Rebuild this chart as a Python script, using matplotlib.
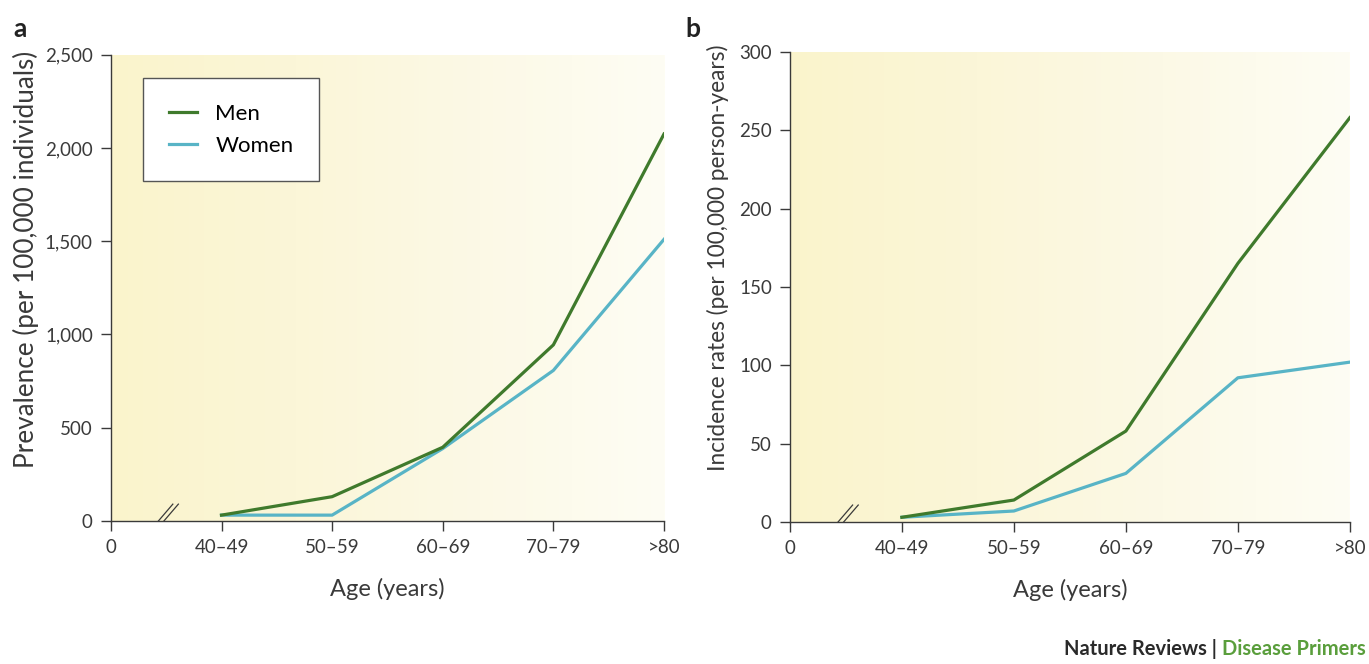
import numpy as np
import matplotlib.pyplot as plt
from matplotlib.colors import LinearSegmentedColormap

plt.rcParams['font.family'] = ['Lato', 'DejaVu Sans']

# Datos
edades = ['0', '40–49', '50–59', '60–69', '70–79', '>80']
prev_hombres = [31, 130, 395, 944, 2075]
prev_mujeres = [31, 31, 388, 807, 1510]
inc_hombres = [3, 14, 58, 165, 258]
inc_mujeres = [3, 7, 31, 92, 102]

verde = '#3f7a2c'
azul = '#58b4c6'
gris = '#3a3a3a'

fondo = LinearSegmentedColormap.from_list('fondo', ['#faf4cc', '#fbf6d8', '#fcf9e6', '#fefdf4'])


def panel(ax, hombres, mujeres, ymax, paso, ylabel, ysize, yx, leyenda=False):
    grad = np.linspace(0, 1, 256).reshape(1, -1)
    ax.imshow(grad, cmap=fondo, aspect='auto', extent=(0, 5, 0, ymax), zorder=0)
    x = range(1, 6)
    ax.plot(x, hombres, color=verde, lw=2.3, label='Men', zorder=3)
    ax.plot(x, mujeres, color=azul, lw=2.3, label='Women', zorder=2)
    ax.set_xlim(0, 5)
    ax.set_ylim(0, ymax)
    ax.set_xticks(range(6))
    ax.set_xticklabels(edades)
    ax.set_yticks(np.arange(0, ymax + 1, paso))
    ax.yaxis.set_major_formatter(plt.FuncFormatter(lambda v, p: f'{int(v):,}'))
    for s in ['top', 'right']:
        ax.spines[s].set_visible(False)
    for s in ['left', 'bottom']:
        ax.spines[s].set_color(gris)
        ax.spines[s].set_linewidth(1.0)
    ax.tick_params(colors=gris, labelsize=13.5, length=7, width=1.0, pad=6)
    ax.set_xlabel('Age (years)', fontsize=17, color=gris, labelpad=16)
    ax.set_ylabel(ylabel, fontsize=ysize, color=gris)
    ax.yaxis.set_label_coords(yx, 0.562)
    # marca de corte del eje
    for x0 in (0.43, 0.48):
        ax.plot([x0, x0 + 0.13], [0, ymax * 0.036], color=gris, lw=0.9,
                clip_on=False, zorder=4)
    if leyenda:
        leg = ax.legend(loc='upper left', bbox_to_anchor=(0.058, 0.95),
                        fontsize=16, fancybox=False, framealpha=1.0,
                        edgecolor='#555555', handlelength=1.3,
                        borderpad=1.15, labelspacing=0.55, handletextpad=0.8,
                        borderaxespad=0)
        leg.get_frame().set_linewidth(1.0)
        leg.get_frame().set_facecolor('#ffffff')


fig = plt.figure(figsize=(13.69, 6.64), dpi=100)
ax1 = fig.add_axes([0.081, 0.2155, 0.404, 0.702])
ax2 = fig.add_axes([0.577, 0.2139, 0.409, 0.708])

panel(ax1, prev_hombres, prev_mujeres, 2500, 500,
      'Prevalence (per 100,000 individuals)', 18.8, -0.13, leyenda=True)
panel(ax2, inc_hombres, inc_mujeres, 300, 50,
      'Incidence rates (per 100,000 person-years)', 16.3, -0.108)

fig.text(0.010, 0.944, 'a', fontsize=19, fontweight='bold', color='#222222')
fig.text(0.501, 0.944, 'b', fontsize=19, fontweight='bold', color='#222222')

t1 = fig.text(0.9975, 0.008, 'Disease Primers', ha='right', va='bottom',
              fontsize=14.5, fontweight='bold', color='#5a9e3c')
fig.canvas.draw()
bb = t1.get_window_extent()
fig.text(bb.x0 / fig.bbox.width, 0.008, 'Nature Reviews | ', ha='right',
         va='bottom', fontsize=14.5, fontweight='bold', color='#2a2a2a')

fig.savefig('out.png', dpi=100)
